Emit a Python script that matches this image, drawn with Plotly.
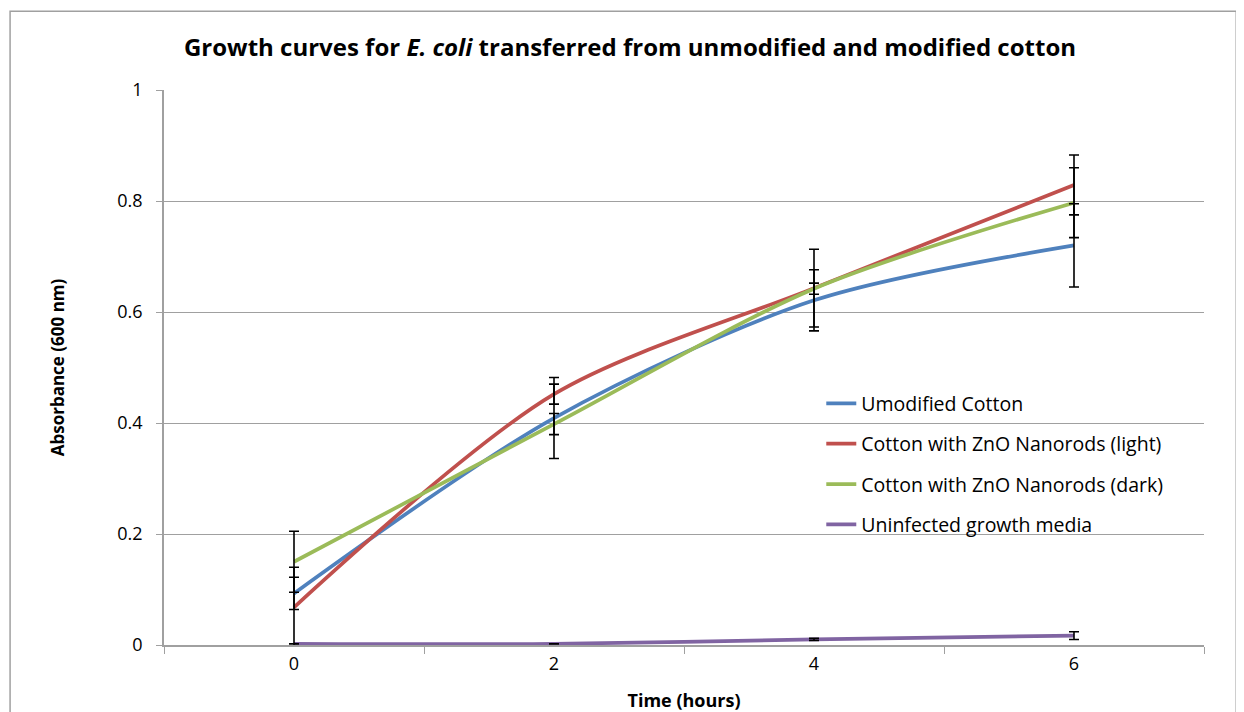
import plotly.graph_objects as go

times = ["0", "2", "4", "6"]
series_names = ["Umodified Cotton", "Cotton with ZnO Nanorods (light)",
                "Cotton with ZnO Nanorods (dark)", "Uninfected growth media"]
unmodified = [0.093, 0.409, 0.621, 0.720]
unmodified_err = [0.029, 0.073, 0.055, 0.075]
zno_light = [0.068, 0.452, 0.643, 0.829]
zno_light_err = [0.072, 0.018, 0.070, 0.054]
zno_dark = [0.150, 0.398, 0.642, 0.797]
zno_dark_err = [0.055, 0.019, 0.010, 0.063]
media = [0.002, 0.002, 0.010, 0.017]
media_err = [0.0, 0.0, 0.002, 0.007]

colors = ["#4F81BD", "#C0504D", "#9BBB59", "#8064A2"]
values = [unmodified, zno_light, zno_dark, media]
errors = [unmodified_err, zno_light_err, zno_dark_err, media_err]

FONT = "Open Sans"
fig = go.Figure()
for i, (name, v, c) in enumerate(zip(series_names, values, colors)):
    fig.add_trace(go.Scatter(
        x=times, y=v, name=name, mode="lines",
        line=dict(color=c, width=3.7, shape="spline", smoothing=0.85),
        legendgroup=f"g{i}",
    ))
for v, e in zip(values, errors):
    fig.add_trace(go.Scatter(
        x=times, y=v, mode="markers", showlegend=False, hoverinfo="skip",
        marker=dict(size=1, color="rgba(0,0,0,0)"),
        error_y=dict(type="data", array=e, visible=True, color="black",
                     thickness=1.6, width=5),
    ))

fig.update_layout(
    width=1244, height=712,
    margin=dict(l=156, r=48, t=82, b=73),
    paper_bgcolor="white", plot_bgcolor="white",
    font=dict(family=FONT, size=18, color="black"),
    title=dict(text="<b>Growth curves for <i>E. coli</i> transferred from unmodified and modified cotton</b>",
               x=0.5, xanchor="center", y=0.944, yanchor="middle",
               font=dict(family=FONT, size=24, color="black")),
    xaxis=dict(type="category", tickson="boundaries", ticks="outside", ticklen=7,
               tickcolor="#A0A0A0", showline=True, linecolor="#A0A0A0", linewidth=1.5,
               showgrid=False, range=[-0.5, 3.5], ticklabelstandoff=2,
               tickfont=dict(size=18),
               title=dict(text="<b>Time (hours)</b>", font=dict(size=18), standoff=20)),
    yaxis=dict(range=[0, 1], tickvals=[0, 0.2, 0.4, 0.6, 0.8, 1],
               ticktext=["0", "0.2", "0.4", "0.6", "0.8", "1"],
               ticks="outside", ticklen=6, tickcolor="#A0A0A0",
               showline=True, linecolor="#A0A0A0", linewidth=1.5,
               showgrid=True, gridcolor="#A0A0A0", gridwidth=1.2,
               zeroline=False, tickfont=dict(size=18), ticklabelstandoff=10,
               title=dict(text="<b>Absorbance (600 nm)</b>", font=dict(size=17), standoff=48)),
    legend=dict(x=0.632, y=0.47, xanchor="left", yanchor="top",
                bgcolor="rgba(0,0,0,0)", font=dict(size=19.5), tracegroupgap=12,
                itemwidth=30),
    shapes=[dict(type="rect", xref="paper", yref="paper",
                 x0=-0.148, x1=1.031, y0=-0.14, y1=1.142,
                 line=dict(color="#A0A0A0", width=1.5), fillcolor="rgba(0,0,0,0)",
                 layer="below")],
)

fig.write_html("out.html")
